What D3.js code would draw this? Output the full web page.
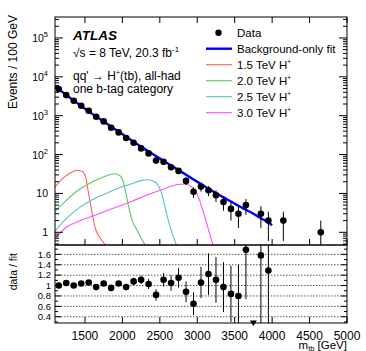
<!DOCTYPE html>
<html>
<head>
<meta charset="utf-8">
<script src="https://cdn.jsdelivr.net/npm/d3@7"></script>
<style>
  body { margin: 0; background: #fff; }
  text { font-family: "Liberation Sans", Arial, Helvetica, sans-serif; fill: #000; }
</style>
</head>
<body>
<div id="chart"></div>
<script>
// data
var dataMass = [1150, 1250, 1350, 1450, 1550, 1650, 1750, 1850, 1950, 2050, 2150, 2250, 2350, 2450, 2550, 2650, 2750, 2850, 2950, 3050, 3150, 3250, 3350, 3450, 3550, 3650, 3850, 3950, 4150, 4650];
var dataEvents = [4830, 3390, 2420, 1800, 1335, 937, 713, 488, 372, 266, 201, 144, 107, 70, 65, 47, 38, 21, 11, 15, 12, 9, 6, 4, 3, 5, 3, 2, 2, 1];
var dataErr = [70, 58, 49, 42, 36, 31, 27, 22, 19, 16, 14, 12, 10, 8.4, 8, 6.9, 6.2, 4.6, 3.3, 3.9, 3.5, 3, 2.4, 2, 1.7, 2.2, 1.7, 1.4, 1.4, 1];

var fitMass = [1100, 1150, 1250, 1350, 1450, 1550, 1650, 1750, 1850, 1950, 2050, 2150, 2250, 2350, 2450, 2550, 2650, 2750, 2850, 2950, 3050, 3150, 3250, 3350, 3450, 3550, 3650, 3750, 3850, 3950, 4000];
var fitEvents = [5620, 4790, 3390, 2450, 1780, 1290, 955, 708, 525, 389, 288, 214, 158, 120, 91, 69, 52.5, 39.8, 30.2, 22.9, 17.4, 13.2, 10.2, 7.9, 6.2, 4.8, 3.8, 3.0, 2.3, 1.78, 1.52];

var ratioMass = [1150, 1250, 1350, 1450, 1550, 1650, 1750, 1850, 1950, 2050, 2150, 2250, 2350, 2450, 2550, 2650, 2750, 2850, 2950, 3050, 3150, 3250, 3350, 3450, 3550, 3650, 3850, 3950];
var ratioValue = [1.0, 1.05, 1.0, 1.04, 1.06, 0.97, 1.04, 0.955, 1.04, 0.97, 1.08, 1.11, 1.03, 0.82, 1.11, 1.05, 1.15, 0.88, 0.65, 1.06, 1.22, 1.11, 0.97, 0.84, 0.8, 1.69, 1.58, 1.29];
var ratioErr = [0.015, 0.018, 0.02, 0.024, 0.028, 0.032, 0.038, 0.044, 0.052, 0.058, 0.07, 0.08, 0.095, 0.11, 0.13, 0.15, 0.19, 0.2, 0.22, 0.3, 0.4, 0.44, 0.48, 0.54, 0.6, 0.95, 1.35, 1.3];
var ratioLowMass = [3750];

var sig15Mass = [1100, 1193, 1304, 1393, 1460, 1507, 1540, 1571, 1603, 1637, 1704, 1773];
var sig15Events = [14.6, 23.4, 33.4, 39.3, 37, 27.5, 12.4, 5.7, 2.6, 1.29, 0.71, 0.47];
var sig20Mass = [1100, 1237, 1416, 1596, 1771, 1885, 1949, 2003, 2047, 2083, 2127, 2193, 2251, 2304];
var sig20Events = [3.47, 6.27, 12.4, 19.6, 27.5, 32.1, 30.3, 22.5, 10.2, 4.66, 2.11, 1.17, 0.71, 0.47];
var sig25Mass = [1100, 1237, 1416, 1596, 1771, 1949, 2127, 2260, 2349, 2419, 2456, 2483, 2523, 2567, 2611, 2656, 2723];
var sig25Events = [1.06, 2.11, 4.2, 6.9, 9.8, 13.8, 17.8, 21.7, 22.5, 20.5, 18.5, 15.2, 10.2, 4.66, 2.11, 1.06, 0.47];
var sig30Mass = [1100, 1149, 1237, 1416, 1596, 1771, 1949, 2127, 2304, 2504, 2723, 2836, 2925, 2991, 3059, 3125, 3169, 3213];
var sig30Events = [0.67, 0.87, 1.29, 1.92, 2.58, 3.47, 4.66, 6.27, 8.73, 12.0, 16.7, 17.5, 14.6, 10.2, 4.66, 1.73, 0.87, 0.47];

var xTicks = [1500, 2000, 2500, 3000, 3500, 4000, 4500, 5000];
var ratioTicks = [0.4, 0.6, 0.8, 1, 1.2, 1.4, 1.6];
var ratioTickLabels = ["0.4", "0.6", "0.8", "1", "1.2", "1.4", "1.6"];
var logExponents = [0, 1, 2, 3, 4, 5];

var legendLabels = ["Data", "Background-only fit", "1.5 TeV H", "2.0 TeV H", "2.5 TeV H", "3.0 TeV H"];
var sigColors = ["#ff5e5e", "#5fc65f", "#55c4c4", "#ff4dff"];

// layout
var svgWidth = 366, svgHeight = 351;
var padL = 55, padR = 347, padT = 17, padM = 245, padB = 323;

var svg = d3.select("#chart").append("svg")
  .attr("width", svgWidth)
  .attr("height", svgHeight);

var x = d3.scaleLinear().domain([1100, 5000]).range([padL, padR]);
var yUp = d3.scaleLog().domain([0.471, 346000]).range([padM, padT]);
var yLo = d3.scaleLinear().domain([0.28, 1.78]).range([padB, padM]);

svg.append("clipPath").attr("id", "clipUp")
  .append("rect").attr("x", padL).attr("y", padT).attr("width", padR - padL).attr("height", padM - padT);
svg.append("clipPath").attr("id", "clipLo")
  .append("rect").attr("x", padL).attr("y", padM).attr("width", padR - padL).attr("height", padB - padM);

// ratio grid lines
svg.append("g").selectAll("line")
  .data(ratioTicks).enter().append("line")
  .attr("x1", padL).attr("x2", padR)
  .attr("y1", d => yLo(d)).attr("y2", d => yLo(d))
  .attr("stroke", "#444").attr("stroke-width", 0.9)
  .attr("stroke-dasharray", "1.5,1.5");

// signal curves
var sigs = [[sig15Mass, sig15Events], [sig20Mass, sig20Events], [sig25Mass, sig25Events], [sig30Mass, sig30Events]];
var sigLine = d3.line().x(d => x(d[0])).y(d => yUp(d[1])).curve(d3.curveMonotoneX);
var upG = svg.append("g").attr("clip-path", "url(#clipUp)");
sigs.forEach((s, i) => {
  upG.append("path")
    .datum(s[0].map((m, j) => [m, s[1][j]]))
    .attr("d", sigLine)
    .attr("fill", "none")
    .attr("stroke", sigColors[i])
    .attr("stroke-width", 1.1);
});

// fit
upG.append("path")
  .datum(fitMass.map((m, j) => [m, fitEvents[j]]))
  .attr("d", d3.line().x(d => x(d[0])).y(d => yUp(d[1])).curve(d3.curveMonotoneX))
  .attr("fill", "none")
  .attr("stroke", "#0000ff")
  .attr("stroke-width", 2.4);

// data points
var pts = dataMass.map((m, j) => ({ m: m, v: dataEvents[j], e: dataErr[j] }));
upG.selectAll(".err").data(pts).enter().append("line")
  .attr("x1", d => x(d.m)).attr("x2", d => x(d.m))
  .attr("y1", d => yUp(d.v + d.e))
  .attr("y2", d => d.v - d.e > 0.471 ? yUp(d.v - d.e) : padM)
  .attr("stroke", "#000").attr("stroke-width", 1);
upG.selectAll("circle").data(pts).enter().append("circle")
  .attr("cx", d => x(d.m)).attr("cy", d => yUp(d.v))
  .attr("r", 3.3).attr("fill", "#000");

// ratio points
var rpts = ratioMass.map((m, j) => ({ m: m, v: ratioValue[j], e: ratioErr[j] }));
var loG = svg.append("g").attr("clip-path", "url(#clipLo)");
loG.selectAll("line").data(rpts).enter().append("line")
  .attr("x1", d => x(d.m)).attr("x2", d => x(d.m))
  .attr("y1", d => yLo(d.v + d.e)).attr("y2", d => yLo(d.v - d.e))
  .attr("stroke", "#000").attr("stroke-width", 1);
loG.selectAll("circle").data(rpts).enter().append("circle")
  .attr("cx", d => x(d.m)).attr("cy", d => yLo(d.v))
  .attr("r", 3.3).attr("fill", "#000");
svg.selectAll(".low").data(ratioLowMass).enter().append("path")
  .attr("d", d => `M${x(d) - 3.5},${padB - 2.5}L${x(d) + 3.5},${padB - 2.5}L${x(d)},${padB + 3}Z`)
  .attr("fill", "#000");

// frames
svg.append("rect").attr("x", padL).attr("y", padT).attr("width", padR - padL).attr("height", padM - padT)
  .attr("fill", "none").attr("stroke", "#000").attr("stroke-width", 1);
svg.append("rect").attr("x", padL).attr("y", padM).attr("width", padR - padL).attr("height", padB - padM)
  .attr("fill", "none").attr("stroke", "#000").attr("stroke-width", 1);

// ticks
var ticks = svg.append("g").attr("stroke", "#000").attr("stroke-width", 1);
function tick(x1, y1, x2, y2) {
  ticks.append("line").attr("x1", x1).attr("y1", y1).attr("x2", x2).attr("y2", y2);
}
xTicks.forEach(t => {
  tick(x(t), padT, x(t), padT + 6);
  tick(x(t), padM, x(t), padM - 6);
  tick(x(t), padB, x(t), padB - 6);
});
var logMinor = [];
for (var k = -1; k <= 5; k++) {
  for (var j = 2; j <= 9; j++) {
    var v = j * Math.pow(10, k);
    if (v > 0.471 && v < 346000) logMinor.push(v);
  }
}
logExponents.forEach(k => {
  var yy = yUp(Math.pow(10, k));
  tick(padL, yy, padL + 8, yy);
  tick(padR, yy, padR - 8, yy);
});
logMinor.forEach(v => {
  var yy = yUp(v);
  tick(padL, yy, padL + 4, yy);
  tick(padR, yy, padR - 4, yy);
});
d3.range(3, 18).map(i => i / 10).forEach(v => {
  var yy = yLo(v);
  var len = Math.round(v * 10) % 2 === 0 ? 6 : 3;
  tick(padL, yy, padL + len, yy);
  tick(padR, yy, padR - len, yy);
});

// tick labels
svg.selectAll(".xl").data(xTicks).enter().append("text")
  .attr("x", d => x(d)).attr("y", 340)
  .attr("text-anchor", "middle").attr("font-size", 12)
  .text(d => d);

logExponents.forEach(k => {
  var t = svg.append("text")
    .attr("x", 48).attr("y", yUp(Math.pow(10, k)) + 4)
    .attr("text-anchor", "end").attr("font-size", 10.5);
  if (k === 0) t.text("1");
  else if (k === 1) t.text("10");
  else {
    t.append("tspan").text("10");
    t.append("tspan").attr("dy", -5).attr("font-size", 7.5).text(k);
  }
});

svg.selectAll(".rl").data(ratioTicks).enter().append("text")
  .attr("x", 51).attr("y", d => yLo(d) + 3.3)
  .attr("text-anchor", "end").attr("font-size", 9.5)
  .text((d, i) => ratioTickLabels[i]);

// axis titles
svg.append("text")
  .attr("transform", "translate(17,15) rotate(-90)")
  .attr("text-anchor", "end").attr("font-size", 12)
  .text("Events / 100 GeV");
svg.append("text")
  .attr("transform", "translate(17,253) rotate(-90)")
  .attr("text-anchor", "end").attr("font-size", 10.5)
  .text("data / fit");
var xt = svg.append("text")
  .attr("x", padR).attr("y", 349)
  .attr("text-anchor", "end").attr("font-size", 11.5);
xt.append("tspan").text("m");
xt.append("tspan").attr("dy", 1.5).attr("font-size", 7.5).text("tb");
xt.append("tspan").attr("dy", -1.5).text(" [GeV]");

// ATLAS labels
svg.append("text").attr("x", 73).attr("y", 40)
  .attr("font-size", 13.5).attr("font-weight", "bold").attr("font-style", "italic")
  .text("ATLAS");
var t2 = svg.append("text").attr("x", 73).attr("y", 57).attr("font-size", 12);
t2.append("tspan").text("\u221As = 8 TeV, 20.3 fb");
t2.append("tspan").attr("dy", -5).attr("font-size", 8).text("-1");
var t3 = svg.append("text").attr("x", 73).attr("y", 80).attr("font-size", 12);
t3.append("tspan").text("qq' \u2192 H");
t3.append("tspan").attr("dy", -5).attr("font-size", 7).text("+");
t3.append("tspan").attr("dy", 5).text("(tb), all-had");
svg.append("text").attr("x", 73).attr("y", 92.5).attr("font-size", 12)
  .text("one b-tag category");

// legend
var legend = svg.append("g");
legendLabels.forEach((lab, i) => {
  var cy = 32.7 + i * 16;
  if (i === 0) {
    legend.append("circle").attr("cx", 218.5).attr("cy", cy).attr("r", 3.2).attr("fill", "#000");
  } else {
    legend.append("line")
      .attr("x1", 206).attr("x2", 232).attr("y1", cy).attr("y2", cy)
      .attr("stroke", i === 1 ? "#0000ff" : sigColors[i - 2])
      .attr("stroke-width", i === 1 ? 2.4 : 1.1);
  }
  var tx = legend.append("text").attr("x", 237).attr("y", cy + 4).attr("font-size", 11.5);
  tx.append("tspan").text(lab);
  if (i > 1) tx.append("tspan").attr("dy", -5).attr("font-size", 6.5).text("+");
});
</script>
</body>
</html>
